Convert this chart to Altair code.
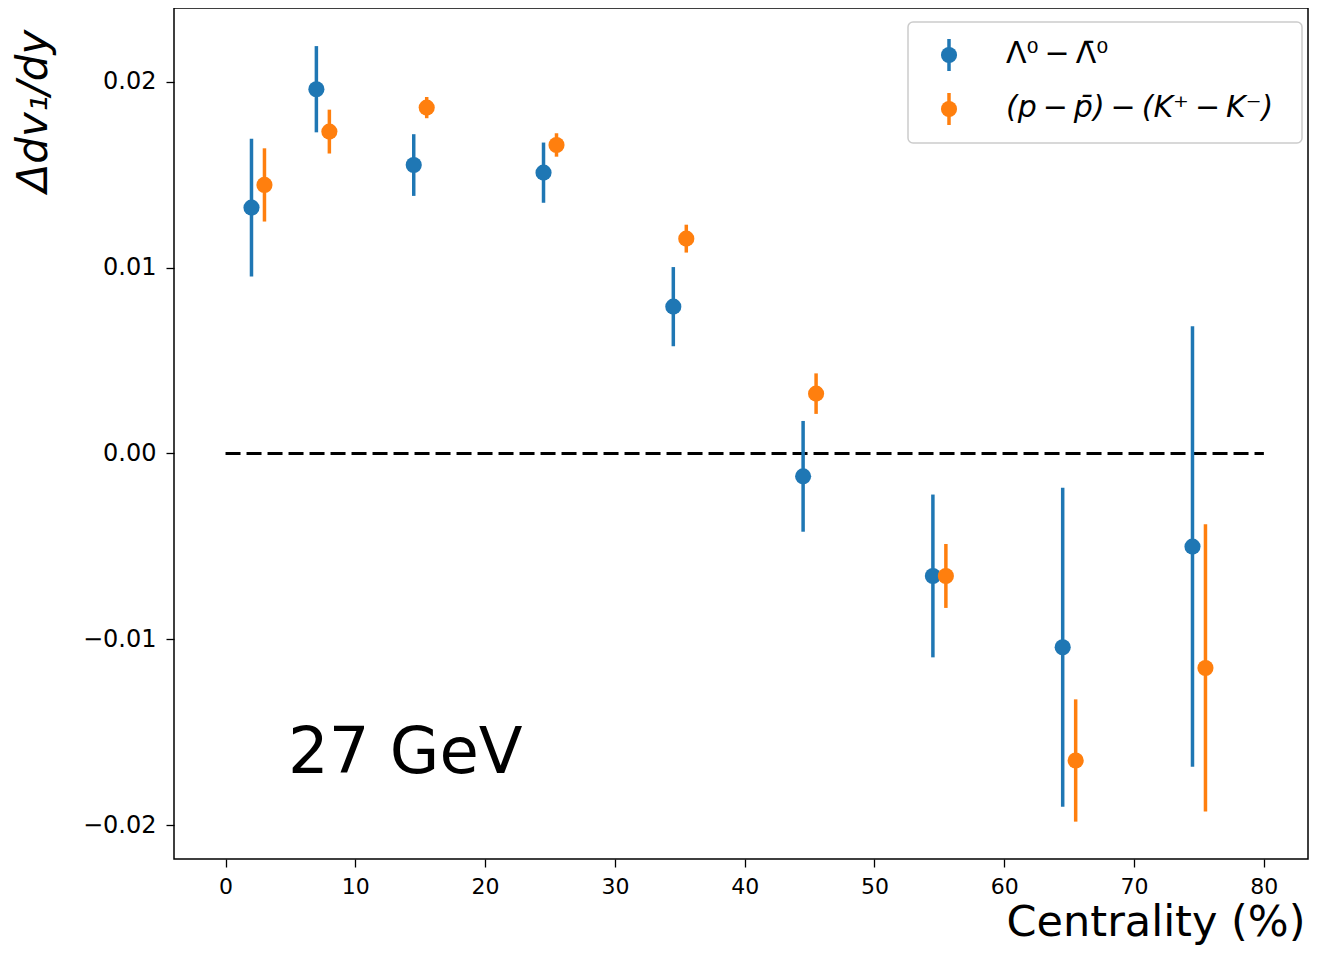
import altair as alt
import pandas as pd

# ---- data ----
centrality_lambda = [2.0, 7.0, 14.5, 24.5, 34.5, 44.5, 54.5, 64.5, 74.5]
dv1_lambda = [0.01323, 0.01960, 0.01552, 0.01511, 0.00790, -0.00123, -0.00659, -0.01043, -0.00501]
err_lambda = [0.00371, 0.00232, 0.00166, 0.00162, 0.00213, 0.00298, 0.00438, 0.00858, 0.01185]

centrality_pk = [3.0, 8.0, 15.5, 25.5, 35.5, 45.5, 55.5, 65.5, 75.5]
dv1_pk = [0.01445, 0.01732, 0.01861, 0.01660, 0.01156, 0.00322, -0.00659, -0.01652, -0.01154]
err_pk = [0.00197, 0.00118, 0.00057, 0.00063, 0.00075, 0.00109, 0.00172, 0.00329, 0.00773]

series_names = ["Λ⁰\u2009−\u2009Λ̄⁰", "(p\u2009−\u2009p̄)\u2009−\u2009(K⁺\u2009−\u2009K⁻)"]
series_styles = ["normal", "italic"]
series_colors = ["#1f77b4", "#ff7f0e"]

x_ticks = [0, 10, 20, 30, 40, 50, 60, 70, 80]
y_ticks = [-0.02, -0.01, 0.0, 0.01, 0.02]
x_domain = [-3.97, 83.4]
y_domain = [-0.02182, 0.02397]

ref_line = pd.DataFrame({"x": [0.0], "x2": [80.0], "y": [0.0]})

W, H = 1134, 851
FONT = "DejaVu Sans"


def frame(xs, ys, es):
    return pd.DataFrame({
        "x": xs, "y": ys,
        "lo": [v - e for v, e in zip(ys, es)],
        "hi": [v + e for v, e in zip(ys, es)],
    })


d_lambda = frame(centrality_lambda, dv1_lambda, err_lambda)
d_pk = frame(centrality_pk, dv1_pk, err_pk)

xscale = alt.Scale(domain=x_domain, nice=False, zero=False)
yscale = alt.Scale(domain=y_domain, nice=False, zero=False)

x_axis = alt.Axis(
    values=x_ticks, format="d", title="Centrality (%)", grid=False,
    labelFont=FONT, labelFontSize=22, labelColor="#000000", labelPadding=9,
    tickSize=8, tickColor="#000000", tickWidth=1.3, domain=False,
    titleFont=FONT, titleFontSize=43, titleFontWeight="normal", titleColor="#000000",
    titleAnchor="end", titleAlign="right", titleX=1131, titleY=76,
    titleBaseline="alphabetic",
)
y_axis = alt.Axis(
    values=y_ticks, format=".2f", title="Δdv₁/dy", grid=False,
    labelFont=FONT, labelFontSize=24, labelColor="#000000", labelPadding=10,
    tickSize=8, tickColor="#000000", tickWidth=1.3, domain=False,
    titleFont=FONT, titleFontSize=42, titleFontStyle="italic", titleFontWeight="normal",
    titleColor="#000000", titleAngle=270, titleAlign="left", titleBaseline="alphabetic",
    titleX=-128, titleY=184,
)

zero_line = alt.Chart(ref_line).mark_rule(
    color="black", strokeWidth=3, strokeDash=[15, 6]
).encode(
    x=alt.X("x:Q", scale=xscale, axis=x_axis),
    x2="x2:Q",
    y=alt.Y("y:Q", scale=yscale, axis=y_axis),
)


def series(df, color):
    bars = alt.Chart(df).mark_rule(color=color, strokeWidth=3.5).encode(
        x=alt.X("x:Q", scale=xscale), y=alt.Y("lo:Q", scale=yscale), y2="hi:Q"
    )
    pts = alt.Chart(df).mark_circle(color=color, size=260, opacity=1).encode(
        x=alt.X("x:Q", scale=xscale), y=alt.Y("y:Q", scale=yscale)
    )
    return [bars, pts]


# ---- legend (drawn by hand, like matplotlib's) ----
legend_box = alt.Chart(pd.DataFrame({"k": [0]})).mark_rect(
    fill="white", fillOpacity=0.85, stroke="#cccccc", strokeWidth=1.5, cornerRadius=5
).encode(x=alt.value(734), x2=alt.value(1128), y=alt.value(14), y2=alt.value(135))

legend_layers = []
for i, (name, col, sty) in enumerate(zip(series_names, series_colors, series_styles)):
    cy = 47 + 54 * i
    d = pd.DataFrame({"label": [name]})
    legend_layers.append(
        alt.Chart(d).mark_rule(color=col, strokeWidth=3.5).encode(
            x=alt.value(775), y=alt.value(cy - 16), y2=alt.value(cy + 16)
        )
    )
    legend_layers.append(
        alt.Chart(d).mark_circle(color=col, size=260, opacity=1).encode(
            x=alt.value(775), y=alt.value(cy)
        )
    )
    legend_layers.append(
        alt.Chart(d).mark_text(
            align="left", baseline="alphabetic", font=FONT, fontSize=30,
            fontStyle=sty, color="black"
        ).encode(x=alt.value(832), y=alt.value(cy + 8), text="label:N")
    )

energy_label = alt.Chart(pd.DataFrame({"t": ["27 GeV"]})).mark_text(
    align="left", baseline="alphabetic", font=FONT, fontSize=64, color="black"
).encode(x=alt.value(114), y=alt.value(765), text="t:N")

chart = alt.layer(
    zero_line,
    *series(d_lambda, series_colors[0]),
    *series(d_pk, series_colors[1]),
    legend_box,
    *legend_layers,
    energy_label,
).properties(
    width=W, height=H,
    autosize=alt.AutoSizeParams(type="none"),
    padding={"left": 166, "top": 0, "right": 1, "bottom": 87},
).configure(
    background="white"
).configure_view(
    stroke="black", strokeWidth=1.5
)

chart.save("out.html", embed_options={"renderer": "svg", "actions": False})
